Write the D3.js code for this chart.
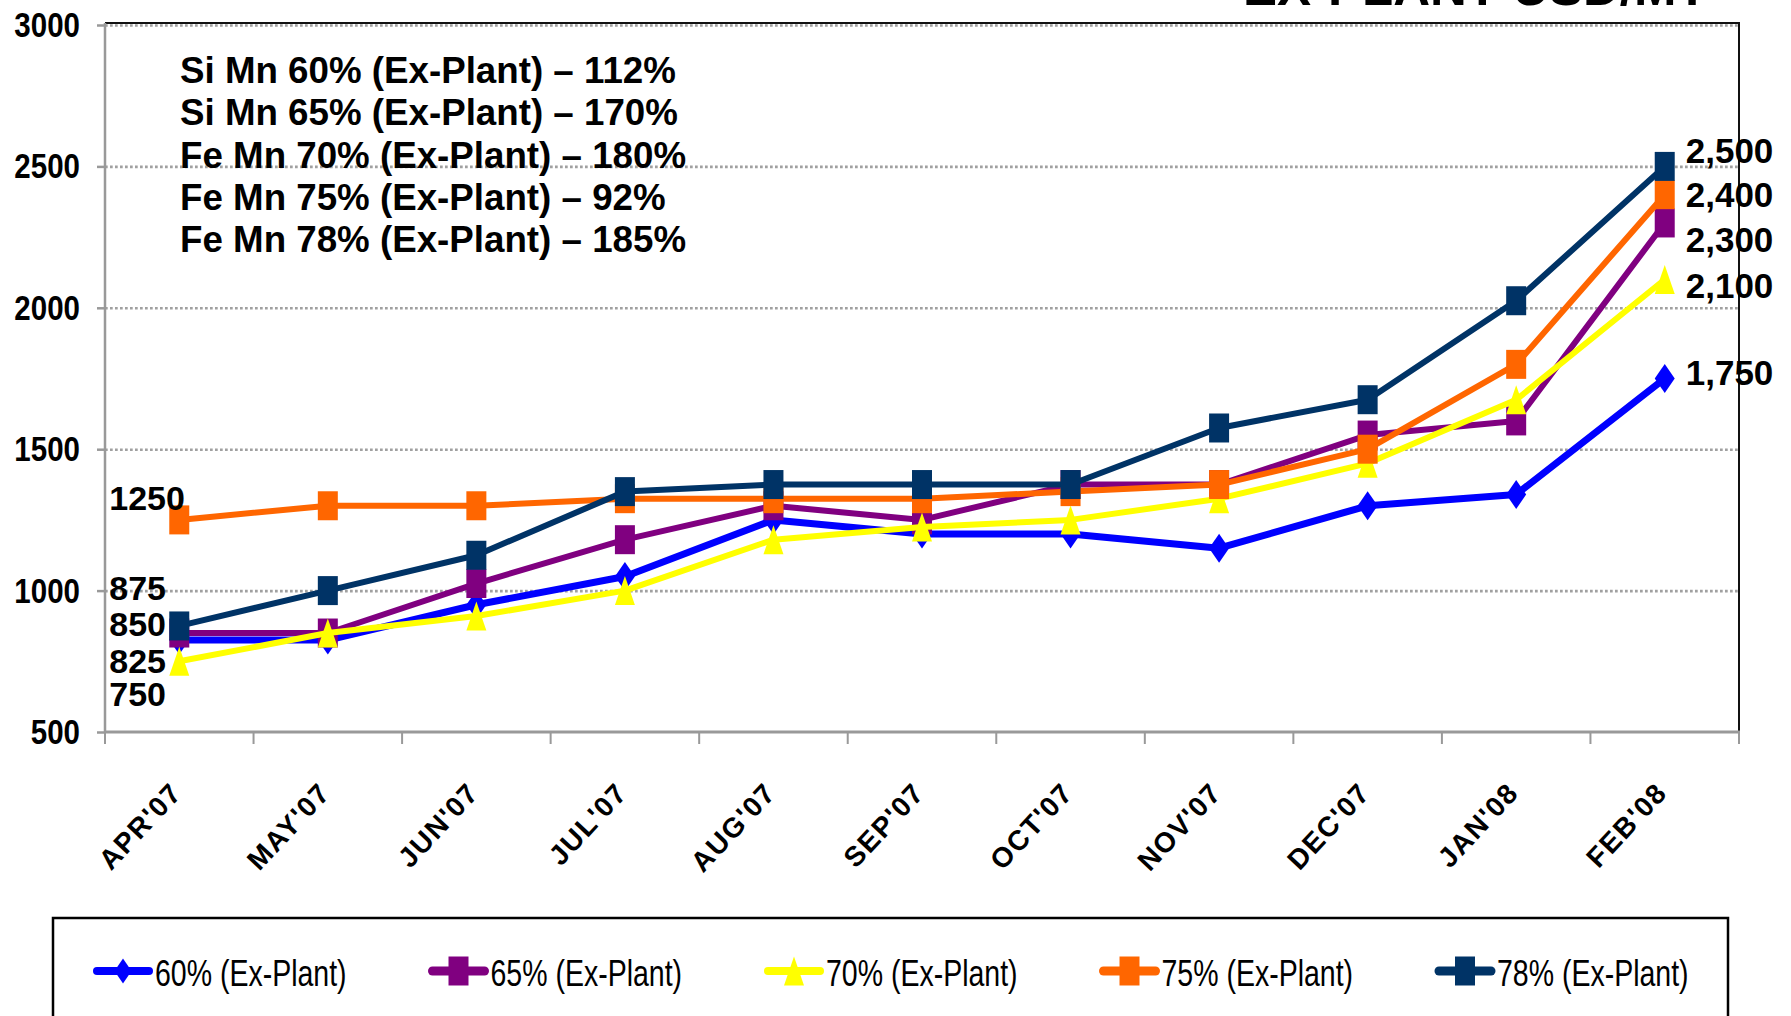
<!DOCTYPE html>
<html>
<head>
<meta charset="utf-8">
<script src="https://cdn.jsdelivr.net/npm/d3@7"></script>
<style>
  html, body { margin: 0; padding: 0; background: #fff; }
  svg { display: block; font-family: "Liberation Sans", Arial, sans-serif; }
</style>
</head>
<body>
<svg width="1791" height="1016"></svg>
<script>
// chart values
const months = ["APR'07", "MAY'07", "JUN'07", "JUL'07", "AUG'07", "SEP'07",
  "OCT'07", "NOV'07", "DEC'07", "JAN'08", "FEB'08"];
const seriesNames = ['60% (Ex-Plant)', '65% (Ex-Plant)', '70% (Ex-Plant)',
  '75% (Ex-Plant)', '78% (Ex-Plant)'];
const si60 = [825, 825, 950, 1050, 1250, 1200, 1200, 1150, 1300, 1340, 1750];
const si65 = [850, 850, 1025, 1180, 1300, 1250, 1375, 1375, 1550, 1600, 2300];
const fe70 = [750, 850, 910, 1000, 1180, 1225, 1250, 1325, 1450, 1675, 2100];
const fe75 = [1250, 1300, 1300, 1325, 1325, 1325, 1350, 1375, 1500, 1800, 2400];
const fe78 = [875, 1000, 1125, 1350, 1375, 1375, 1375, 1575, 1675, 2025, 2500];
const yTicks = [500, 1000, 1500, 2000, 2500, 3000];
const noteProducts = ['Si Mn 60%', 'Si Mn 65%', 'Fe Mn 70%', 'Fe Mn 75%', 'Fe Mn 78%'];
const noteChanges = ['112%', '170%', '180%', '92%', '185%'];
const title = 'EX-PLANT USD/MT';

// looks
const colors = ['#0000ff', '#800080', '#ffff00', '#ff6600', '#003366'];
const shapes = ['diamond', 'square', 'triangle', 'square', 'square'];
const lineWidths = [7, 6, 6, 6, 6];
// hand placed offsets of the end / start value labels (px, from the point)
const rightLabelDy = [-6, 17, 6, 0, -16];
const leftLabelDy = [21, -9, 33, -22, -38];

const plot = {left: 105, right: 1739, top: 25, bottom: 732};
const svg = d3.select('svg');

const x = d3.scalePoint().domain(months).range([plot.left, plot.right]).padding(0.5);
const xBand = d3.scaleBand().domain(months).range([plot.left, plot.right]);
const y = d3.scaleLinear().domain([500, 3000]).range([plot.bottom, plot.top]);

const series = [si60, si65, fe70, fe75, fe78].map((vals, i) => ({
  name: seriesNames[i],
  color: colors[i],
  shape: shapes[i],
  width: lineWidths[i],
  values: vals.map((v, j) => ({m: months[j], v: v})),
}));

function markerPath(shape, w, h) {
  if (shape === 'diamond') {
    return `M0,${-h / 2}L${w / 2},0L0,${h / 2}L${-w / 2},0Z`;
  }
  if (shape === 'triangle') {
    return `M0,${-h / 2}L${w / 2},${h / 2}L${-w / 2},${h / 2}Z`;
  }
  return `M${-w / 2},${-h / 2}h${w}v${h}h${-w}Z`;
}

function scaledText(sel, px, py, txt, o) {
  const g = sel.append('g')
    .attr('transform', `translate(${px},${py}) scale(${o.sx || 1},1)`);
  return g.append('text')
    .attr('text-anchor', o.anchor || 'start')
    .attr('font-size', o.size)
    .attr('font-weight', o.weight || 'bold')
    .attr('fill', '#000')
    .text(txt);
}

// gridlines
svg.append('g')
  .selectAll('line')
  .data(yTicks.filter(t => t > 500))
  .enter()
  .append('line')
  .attr('x1', plot.left)
  .attr('x2', plot.right)
  .attr('y1', d => y(d) + 0.5)
  .attr('y2', d => y(d) + 0.5)
  .attr('stroke', '#a0a0a0')
  .attr('stroke-width', 2.6)
  .attr('stroke-dasharray', '2.7,2.3');

// plot frame: dark top and right, grey axes
svg.append('line')
  .attr('x1', plot.left).attr('x2', plot.right + 1)
  .attr('y1', y(3000) - 2).attr('y2', y(3000) - 2)
  .attr('stroke', '#111').attr('stroke-width', 2);
svg.append('line')
  .attr('x1', plot.right).attr('x2', plot.right)
  .attr('y1', y(3000) - 3).attr('y2', plot.bottom)
  .attr('stroke', '#111').attr('stroke-width', 2);

const yAxis = svg.append('g')
  .attr('transform', `translate(${plot.left},0)`)
  .call(d3.axisLeft(y).tickValues(yTicks).tickSize(8).tickFormat(''));
yAxis.select('.domain').attr('d', `M0,${y(3000) - 2}V${plot.bottom}`);
yAxis.selectAll('path, line').attr('stroke', '#999').attr('stroke-width', 2.5);

svg.append('line')
  .attr('x1', plot.left - 1).attr('x2', plot.right + 1)
  .attr('y1', plot.bottom).attr('y2', plot.bottom)
  .attr('stroke', '#999').attr('stroke-width', 3);
svg.append('g')
  .selectAll('line')
  .data(months.map(m => xBand(m)).concat([plot.right]))
  .enter()
  .append('line')
  .attr('x1', d => d).attr('x2', d => d)
  .attr('y1', plot.bottom).attr('y2', plot.bottom + 12)
  .attr('stroke', '#999').attr('stroke-width', 2);

// y tick labels (condensed bold)
const yLabels = svg.append('g');
yTicks.forEach((t) => {
  scaledText(yLabels, 80, y(t) + 12, t, {size: 36, sx: 0.82, anchor: 'end'});
});

// x tick labels, rotated
svg.append('g')
  .selectAll('text')
  .data(months)
  .enter()
  .append('text')
  .attr('transform', d => `translate(${x(d) + 4},794) rotate(-47)`)
  .attr('text-anchor', 'end')
  .attr('font-size', 28)
  .attr('font-weight', 'bold')
  .attr('letter-spacing', 1.5)
  .text(d => d);

// series lines and markers
const line = d3.line().x(d => x(d.m)).y(d => y(d.v));
series.forEach((s) => {
  const g = svg.append('g');
  g.append('path')
    .datum(s.values)
    .attr('d', line)
    .attr('fill', 'none')
    .attr('stroke', s.color)
    .attr('stroke-width', s.width)
    .attr('stroke-linejoin', 'round');
  g.selectAll('path.mark')
    .data(s.values)
    .enter()
    .append('path')
    .attr('class', 'mark')
    .attr('transform', d => `translate(${x(d.m)},${y(d.v)})`)
    .attr('d', markerPath(s.shape, 20, 29))
    .attr('fill', s.color);
});

// value labels at both ends
const fmtRight = d3.format(',');
const vLabels = svg.append('g');
series.forEach((s, i) => {
  const last = s.values[s.values.length - 1];
  const first = s.values[0];
  scaledText(vLabels, x(last.m) + 21, y(last.v) + rightLabelDy[i] + 12.5,
    fmtRight(last.v), {size: 35});
  scaledText(vLabels, x(first.m) - 70, y(first.v) + leftLabelDy[i] + 12,
    first.v, {size: 34});
});

// notes block
const notes = svg.append('g');
noteProducts.forEach((p, i) => {
  scaledText(notes, 180, 83 + i * 42.25, `${p} (Ex-Plant) \u2013 ${noteChanges[i]}`,
    {size: 36, sx: 1.02});
});

// title, mostly above the picture
scaledText(svg, 1243, 5, title, {size: 51});

// legend
const legend = svg.append('g');
legend.append('rect')
  .attr('x', 53).attr('y', 918)
  .attr('width', 1675).attr('height', 130)
  .attr('fill', '#fff')
  .attr('stroke', '#000')
  .attr('stroke-width', 2.5);
series.forEach((s, i) => {
  const cx = 123 + i * 335.5;
  const item = legend.append('g');
  item.append('line')
    .attr('x1', cx - 26).attr('x2', cx + 26)
    .attr('y1', 971).attr('y2', 971)
    .attr('stroke', s.color)
    .attr('stroke-width', s.shape === 'square' ? 9 : 8)
    .attr('stroke-linecap', 'round');
  item.append('path')
    .attr('transform', `translate(${cx},971)`)
    .attr('d', markerPath(s.shape, s.shape === 'diamond' ? 17 : 20, s.shape === 'diamond' ? 25 : 29))
    .attr('fill', s.color);
  scaledText(item, cx + 32, 986, s.name, {size: 37, sx: 0.77, weight: 'normal'});
});
</script>
</body>
</html>
